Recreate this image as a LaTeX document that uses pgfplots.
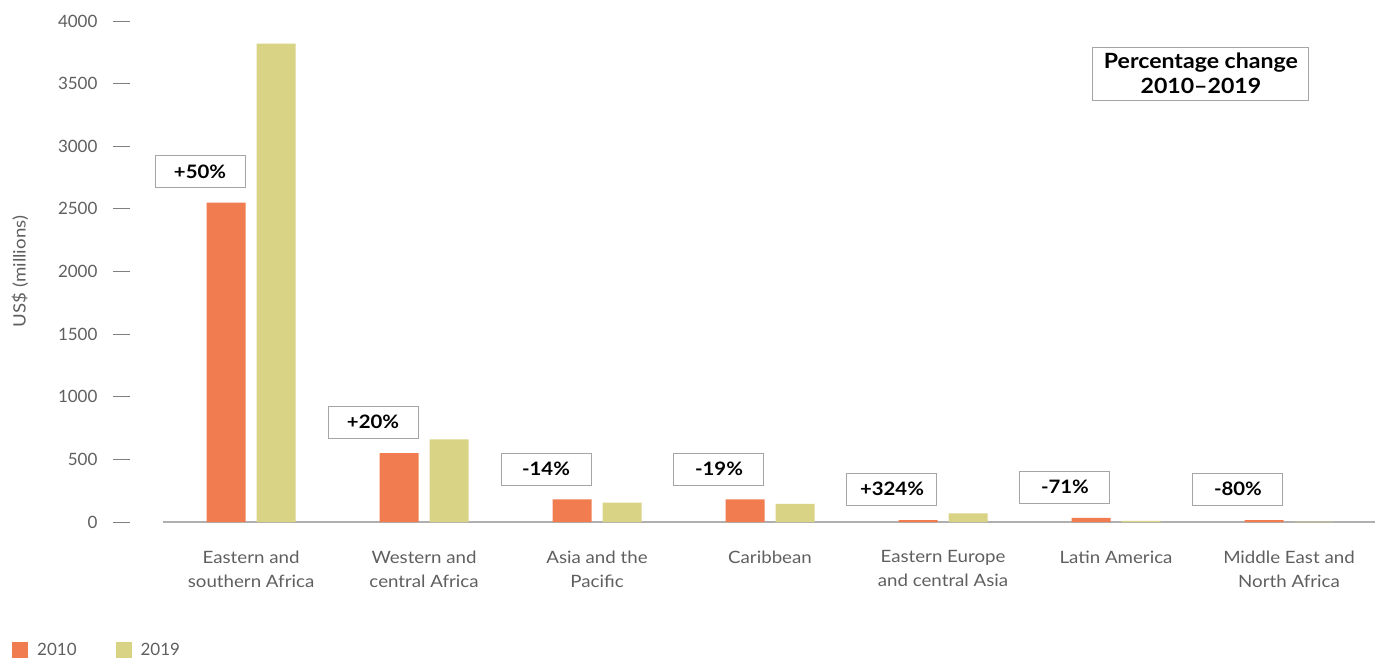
\documentclass[border=0pt]{standalone}
\usepackage{fontspec}
\setmainfont{Lato}
\newfontfamily\widefont{Lato}[FakeStretch=1.1]
\usepackage{pgfplots}
\pgfplotsset{compat=1.18}
\definecolor{c2010}{RGB}{240,124,79}
\definecolor{c2019}{RGB}{217,211,133}
\definecolor{txtgray}{RGB}{95,95,95}
\definecolor{axgray}{RGB}{175,175,175}
\definecolor{boxgray}{RGB}{165,165,165}
\begin{document}
\begin{tikzpicture}[x=1pt,y=1pt]
\useasboundingbox (0,0) rectangle (1375,657);
\begin{axis}[
  at={(163pt,135pt)}, anchor=south west,
  scale only axis, width=1212pt, height=501pt,
  xmin=-0.509, xmax=6.497, ymin=0, ymax=4000,
  clip=false,
  ybar=11pt, bar width=39pt,
  axis x line*=bottom, axis y line*=left,
  x axis line style={draw=axgray, line width=1.5pt, -},
  y axis line style={draw=none},
  major tick length=0pt,
  xtick={0,...,6},
  xticklabels={{Eastern and\\southern Africa},{Western and\\central Africa},{Asia and the\\Pacific},{Caribbean},{Eastern Europe\\and central Asia},{Latin America},{Middle East and\\North Africa}},
  xticklabel style={align=center, font=\widefont\fontsize{17}{24}\selectfont, text=txtgray, anchor=north, yshift=-25pt},
  ytick={0,500,...,4000},
  /pgf/number format/assume math mode=true,
  /pgf/number format/1000 sep={},
  yticklabel={\pgfmathprintnumber{\tick}\hspace{16pt}{\color{txtgray!80}\rule[0.33em]{17pt}{0.9pt}}},
  yticklabel style={font=\fontsize{17}{20}\selectfont, text=txtgray, anchor=east, xshift=-29pt},
  ylabel={US\$ (millions)},
  ylabel style={at={(axis description cs:-0.118,0.5)}, anchor=center, font=\widefont\fontsize{17}{20}\selectfont, text=txtgray},
  legend columns=2,
  legend style={at={(rel axis cs:-0.1246,-0.2555)}, anchor=west, draw=none, fill=none, inner sep=0pt,
    font=\fontsize{17}{20}\selectfont, text=txtgray,
    /tikz/every even column/.append style={column sep=37pt}},
  legend image code/.code={\fill[#1] (0pt,-8pt) rectangle (16pt,8pt); \path (23pt,0pt);},
]
\addplot[fill=c2010, draw=none] coordinates {(0,2550) (1,550) (2,180) (3,180) (4,16) (5,32) (6,15)};
\addplot[fill=c2019, draw=none] coordinates {(0,3820) (1,660) (2,155) (3,145) (4,68) (5,9) (6,3)};
\legend{2010,2019}
\tikzset{pbox/.style={draw=boxgray, line width=1pt, fill=white, minimum width=90pt, minimum height=32pt, inner sep=0pt, font=\widefont\fontsize{18.5}{20}\selectfont\bfseries, text=black}}
\node[pbox] at (axis cs:-0.295,2797) {+50\%};
\node[pbox] at (axis cs:0.705,798) {+20\%};
\node[pbox] at (axis cs:1.705,423) {-14\%};
\node[pbox] at (axis cs:2.705,423) {-19\%};
\node[pbox] at (axis cs:3.705,263) {+324\%};
\node[pbox] at (axis cs:4.705,279) {-71\%};
\node[pbox] at (axis cs:5.705,263) {-80\%};
\node[draw=boxgray, line width=1pt, fill=white, minimum width=216pt, minimum height=53pt, inner sep=0pt, align=center, font=\widefont\fontsize{21}{25}\selectfont\bfseries, text=black] at (axis cs:5.491,3579) {Percentage change\\2010–2019};
\end{axis}
\end{tikzpicture}
\end{document}
